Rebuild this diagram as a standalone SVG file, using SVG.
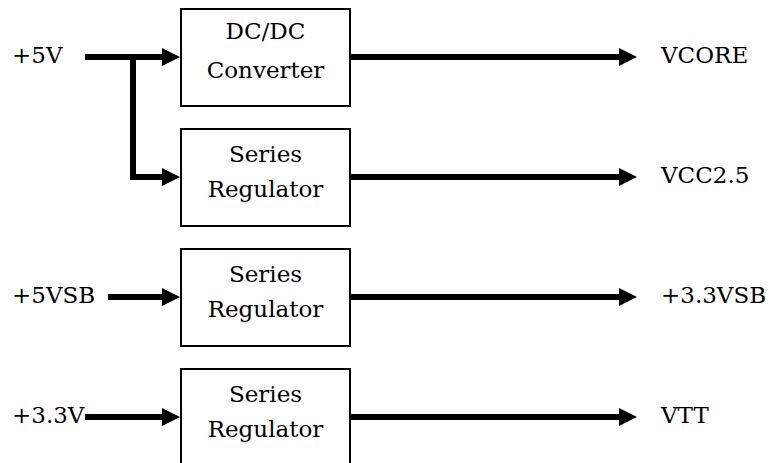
<svg xmlns="http://www.w3.org/2000/svg" width="771" height="463" viewBox="0 0 771 463">
<style>
  .box { fill: #ffffff; stroke: #000000; stroke-width: 2; }
  .lbl { font-family: "DejaVu Serif", "Liberation Serif", serif; font-size: 23px; fill: #000000; }
  .mid { text-anchor: middle; }
  .wire { fill: none; stroke: #000000; stroke-width: 6; stroke-linejoin: miter; }
</style>
<defs>
  <marker id="arrow" markerUnits="userSpaceOnUse" markerWidth="18" markerHeight="18" refX="8" refY="9" orient="auto">
    <path d="M0,0 L18,9 L0,18 Z" fill="#000000"/>
  </marker>
</defs>
<rect width="771" height="463" fill="#ffffff"/>

<g id="connectors">
  <path class="wire" d="M85,57 H170" marker-end="url(#arrow)"/>
  <path class="wire" d="M133,57 V177 H170" marker-end="url(#arrow)"/>
  <path class="wire" d="M108,297 H170" marker-end="url(#arrow)"/>
  <path class="wire" d="M85,417 H170" marker-end="url(#arrow)"/>
  <path class="wire" d="M350,57 H627" marker-end="url(#arrow)"/>
  <path class="wire" d="M350,177 H627" marker-end="url(#arrow)"/>
  <path class="wire" d="M350,297 H627" marker-end="url(#arrow)"/>
  <path class="wire" d="M350,417 H627" marker-end="url(#arrow)"/>
</g>

<g id="dcdc">
  <rect class="box" x="181" y="9" width="169" height="97"/>
  <text class="lbl mid" x="265.5" y="39">DC/DC</text>
  <text class="lbl mid" x="265.5" y="78">Converter</text>
</g>
<g id="reg1">
  <rect class="box" x="181" y="129" width="169" height="97"/>
  <text class="lbl mid" x="265.5" y="162">Series</text>
  <text class="lbl mid" x="265.5" y="197">Regulator</text>
</g>
<g id="reg2">
  <rect class="box" x="181" y="249" width="169" height="97"/>
  <text class="lbl mid" x="265.5" y="282">Series</text>
  <text class="lbl mid" x="265.5" y="317">Regulator</text>
</g>
<g id="reg3">
  <rect class="box" x="181" y="369" width="169" height="97"/>
  <text class="lbl mid" x="265.5" y="402">Series</text>
  <text class="lbl mid" x="265.5" y="437">Regulator</text>
</g>

<g id="in-5v"><text class="lbl" x="12" y="63">+5V</text></g>
<g id="in-5vsb"><text class="lbl" x="12" y="303">+5VSB</text></g>
<g id="in-3v3"><text class="lbl" x="12" y="423">+3.3V</text></g>

<g id="out-vcore"><text class="lbl" x="661" y="63">VCORE</text></g>
<g id="out-vcc25"><text class="lbl" x="661" y="183">VCC2.5</text></g>
<g id="out-3v3sb"><text class="lbl" x="661" y="303">+3.3VSB</text></g>
<g id="out-vtt"><text class="lbl" x="661" y="423">VTT</text></g>
</svg>
